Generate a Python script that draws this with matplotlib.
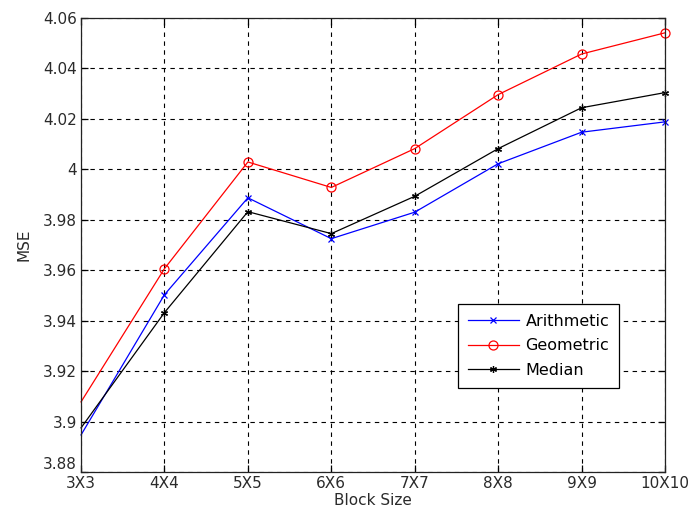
import matplotlib
matplotlib.use("Agg")
import matplotlib.pyplot as plt

# values
block_sizes = ["3X3", "4X4", "5X5", "6X6", "7X7", "8X8", "9X9", "10X10"]
arithmetic = [3.8947, 3.9503, 3.9887, 3.9725, 3.9830, 4.0022, 4.0147, 4.0188]
geometric = [3.9078, 3.9606, 4.0029, 3.9928, 4.0082, 4.0296, 4.0457, 4.0541]
median = [3.8975, 3.9432, 3.9832, 3.9745, 3.9893, 4.0082, 4.0244, 4.0304]

y_ticks = [3.88, 3.90, 3.92, 3.94, 3.96, 3.98, 4.00, 4.02, 4.04, 4.06]
y_labels = ["3.88", "3.9", "3.92", "3.94", "3.96", "3.98", "4", "4.02", "4.04", "4.06"]

plt.rcParams["font.family"] = ["DejaVu Sans"]
plt.rcParams["font.size"] = 11

fig = plt.figure(figsize=(6.89, 5.21), dpi=100)
ax = fig.add_axes([0.1176, 0.094, 0.8476, 0.8716])

x = list(range(len(block_sizes)))
asterisk = (6, 2, 0)
marks = slice(1, None)  # the 3X3 point shows no marker in the original
ax.plot(x, arithmetic, "-", color="blue", lw=0.9, marker="x", ms=4.5, mew=0.9,
        markevery=marks, clip_on=False, label="Arithmetic")
ax.plot(x, geometric, "-", color="red", lw=0.9, marker="o", ms=6.5, mfc="none",
        mew=0.9, markevery=marks, clip_on=False, label="Geometric")
ax.plot(x, median, "-", color="black", lw=0.9, marker=asterisk, ms=5, mew=0.9,
        markevery=marks, clip_on=False, label="Median")

ax.set_xlim(0, len(block_sizes) - 1)
ax.set_ylim(3.88, 4.06)
ax.set_xticks(x)
ax.set_xticklabels(block_sizes)
ax.set_yticks(y_ticks)
ax.set_yticklabels(y_labels)
ax.tick_params(direction="in", length=5, width=0.9, top=True, right=True,
               colors="black", labelcolor="#2a2a2a")
ax.tick_params(axis="x", pad=3)
ax.tick_params(axis="y", pad=3)
# lowest y label sits above the axis corner, like the original
ax.get_yticklabels()[0].set_verticalalignment("bottom")
ax.grid(True, color="black", linestyle=(0, (4, 4)), lw=0.8)
for s in ax.spines.values():
    s.set_linewidth(0.9)
    s.set_color("#222222")

ax.set_xlabel("Block Size", color="#2a2a2a", labelpad=1)
ax.set_ylabel("MSE", color="#2a2a2a", labelpad=8)

leg = ax.legend(loc="upper left", bbox_to_anchor=(0.645, 0.37),
                fancybox=False, framealpha=1, edgecolor="black",
                borderpad=0.62, borderaxespad=0, handlelength=3.2,
                labelspacing=0.6, handletextpad=0.42, fontsize=11.5)
leg.get_frame().set_linewidth(0.9)

fig.savefig("out.png", dpi=100)
